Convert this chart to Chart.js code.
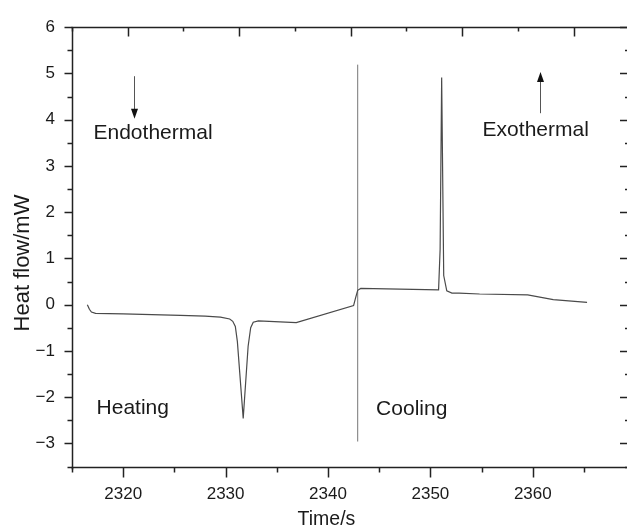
<html>
<head>
    <style>
        body {
            margin: 0;
            background-color: white;
        }
    </style>
    <script src="https://cdn.jsdelivr.net/npm/chart.js@4.4.0/dist/chart.umd.min.js"></script>
</head>
<body>
    <canvas id="dscChart" width="627" height="530"></canvas>

<script>
    // DSC trace
    var timeS = [2316.5, 2316.7, 2316.9, 2317.3, 2320, 2325.6, 2328, 2329.5, 2330.4, 2330.7, 2330.95, 2331.15,
        2331.72, 2332.2, 2332.45, 2332.7, 2333.2, 2336.9, 2342.5, 2342.7, 2342.9, 2343.2,
        2350.8, 2350.95, 2351.1, 2351.3, 2351.6, 2352.1, 2352.8, 2354.8, 2359.5, 2362, 2365.3];
    var heatFlowMW = [0.00, -0.10, -0.16, -0.19, -0.20, -0.23, -0.25, -0.27, -0.31, -0.36, -0.47, -0.8,
        -2.46, -0.9, -0.5, -0.38, -0.35, -0.39, -0.02, 0.15, 0.31, 0.35,
        0.32, 1.2, 4.91, 0.63, 0.30, 0.25, 0.25, 0.23, 0.21, 0.11, 0.05];

    // the vertical heating/cooling switch line
    var switchTimeS = [2342.9, 2342.9];
    var switchFlowMW = [-2.96, 5.19];

    var xTickLabels = [2320, 2330, 2340, 2350, 2360];
    var xMinorTicks = [2315, 2325, 2335, 2345, 2355, 2365];
    var yTickLabels = [-3, -2, -1, 0, 1, 2, 3, 4, 5, 6];
    var yMinorTicks = [-3.5, -2.5, -1.5, -0.5, 0.5, 1.5, 2.5, 3.5, 4.5, 5.5];
    var topMajorTicks = [0, 1, 2, 3, 4];
    var topMinorTicks = [-0.5, 0.5, 1.5, 2.5, 3.5];

    // text notes: [label, time, flow]
    var notes = [
        ['Endothermal', 2317.1, 3.71],
        ['Exothermal', 2355.1, 3.78],
        ['Heating', 2317.4, -2.24],
        ['Cooling', 2344.7, -2.27]
    ];
    // arrows: [time, fromFlow, toFlow]
    var arrows = [
        [2321.1, 4.94, 4.02],
        [2360.7, 4.14, 5.03]
    ];

    var fontName = "'Liberation Sans', Arial, Helvetica, sans-serif";
    var axisColor = '#222';

    function toPoints(xs, ys) {
        var pts = [];
        for (var i = 0; i < xs.length; i++) {
            pts.push({ x: xs[i], y: ys[i] });
        }
        return pts;
    }

    var framePlugin = {
        id: 'frame',
        afterDraw: function (chart) {
            var ctx = chart.ctx;
            var xs = chart.scales.x;
            var ys = chart.scales.y;
            var ts = chart.scales.xTop;
            var a = chart.chartArea;
            var left = Math.round(a.left) + 0.5;
            var bottom = Math.round(a.bottom) + 0.5;
            var top = Math.round(a.top) + 0.5;
            var right = a.right;

            ctx.save();
            ctx.strokeStyle = axisColor;
            ctx.lineWidth = 1.5;
            ctx.beginPath();
            ctx.moveTo(left, top); ctx.lineTo(left, bottom + 2);
            ctx.moveTo(left - 1, bottom); ctx.lineTo(right, bottom);
            ctx.moveTo(left - 1, top); ctx.lineTo(right, top);
            ctx.stroke();

            function hTick(v, len, scale, yBase, dir) {
                var p = Math.round(scale.getPixelForValue(v)) + 0.5;
                ctx.moveTo(p, yBase); ctx.lineTo(p, yBase + dir * len);
            }
            function vTick(v, len, xBase, dir) {
                var p = Math.round(ys.getPixelForValue(v)) + 0.5;
                ctx.moveTo(xBase, p); ctx.lineTo(xBase + dir * len, p);
            }

            ctx.beginPath();
            xTickLabels.forEach(function (v) { hTick(v, 10, xs, bottom, 1); });
            xMinorTicks.forEach(function (v) { hTick(v, 5, xs, bottom, 1); });
            topMajorTicks.forEach(function (v) { hTick(v, 9, ts, top, 1); });
            topMinorTicks.forEach(function (v) { hTick(v, 4, ts, top, 1); });
            yTickLabels.forEach(function (v) { vTick(v, 8, left, -1); vTick(v, 7, right, -1); });
            yMinorTicks.forEach(function (v) { vTick(v, 5, left, -1); vTick(v, 2, right, -1); });
            ctx.stroke();

            // arrows
            ctx.strokeStyle = '#555';
            ctx.fillStyle = '#111';
            ctx.lineWidth = 1;
            arrows.forEach(function (ar) {
                var x = Math.round(xs.getPixelForValue(ar[0])) + 0.5;
                var y0 = ys.getPixelForValue(ar[1]);
                var y1 = ys.getPixelForValue(ar[2]);
                var dir = y1 > y0 ? 1 : -1;
                ctx.beginPath();
                ctx.moveTo(x, y0); ctx.lineTo(x, y1 - dir * 8);
                ctx.stroke();
                ctx.beginPath();
                ctx.moveTo(x, y1);
                ctx.lineTo(x - 3.5, y1 - dir * 10);
                ctx.lineTo(x + 3.5, y1 - dir * 10);
                ctx.closePath();
                ctx.fill();
            });

            // notes
            ctx.fillStyle = '#1a1a1a';
            ctx.font = '21px ' + fontName;
            ctx.textBaseline = 'middle';
            ctx.textAlign = 'left';
            notes.forEach(function (n) {
                ctx.fillText(n[0], xs.getPixelForValue(n[1]), ys.getPixelForValue(n[2]));
            });

            // axis titles
            ctx.font = '19.5px ' + fontName;
            ctx.textAlign = 'center';
            ctx.fillText('Time/s', xs.getPixelForValue(2339.85), 520);
            ctx.font = '22px ' + fontName;
            ctx.translate(23, 263);
            ctx.rotate(-Math.PI / 2);
            ctx.fillText('Heat flow/mW', 0, 0);
            ctx.restore();
        }
    };

    var ctx = document.getElementById('dscChart').getContext('2d');
    var chart = new Chart(ctx, {
        type: 'scatter',
        data: {
            datasets: [
                {
                    label: 'Heat flow',
                    data: toPoints(timeS, heatFlowMW),
                    showLine: true,
                    borderColor: '#4a4a4a',
                    borderWidth: 1.2,
                    pointRadius: 0,
                    tension: 0
                },
                {
                    label: 'Switch',
                    data: toPoints(switchTimeS, switchFlowMW),
                    showLine: true,
                    borderColor: '#777',
                    borderWidth: 1,
                    pointRadius: 0
                }
            ]
        },
        options: {
            responsive: false,
            animation: false,
            devicePixelRatio: 1,
            layout: { padding: { top: 20, right: 0, left: 0, bottom: 0 } },
            plugins: {
                legend: { display: false },
                tooltip: { enabled: false }
            },
            scales: {
                x: {
                    type: 'linear',
                    min: 2315,
                    max: 2369.2,
                    grid: { display: false, drawTicks: false },
                    border: { display: false },
                    afterBuildTicks: function (s) {
                        s.ticks = xTickLabels.map(function (v) { return { value: v }; });
                    },
                    afterFit: function (s) { s.height = 63.5; },
                    ticks: {
                        color: '#1a1a1a',
                        padding: 18,
                        maxRotation: 0,
                        font: { family: fontName, size: 17 },
                        callback: function (v) { return String(v); }
                    }
                },
                xTop: {
                    type: 'linear',
                    position: 'top',
                    min: -0.5,
                    max: 4.48,
                    grid: { display: false, drawTicks: false },
                    border: { display: false },
                    ticks: { display: false },
                    afterFit: function (s) { s.height = 0; }
                },
                y: {
                    min: -3.5,
                    max: 6,
                    grid: { display: false, drawTicks: false },
                    border: { display: false },
                    afterBuildTicks: function (s) {
                        s.ticks = yTickLabels.map(function (v) { return { value: v }; });
                    },
                    afterFit: function (s) { s.width = 72; },
                    ticks: {
                        color: '#1a1a1a',
                        padding: 17,
                        font: { family: fontName, size: 17 },
                        callback: function (v) { return v < 0 ? '\u2212' + Math.abs(v) : String(v); }
                    }
                }
            }
        },
        plugins: [framePlugin]
    });
</script>
</body>
</html>
